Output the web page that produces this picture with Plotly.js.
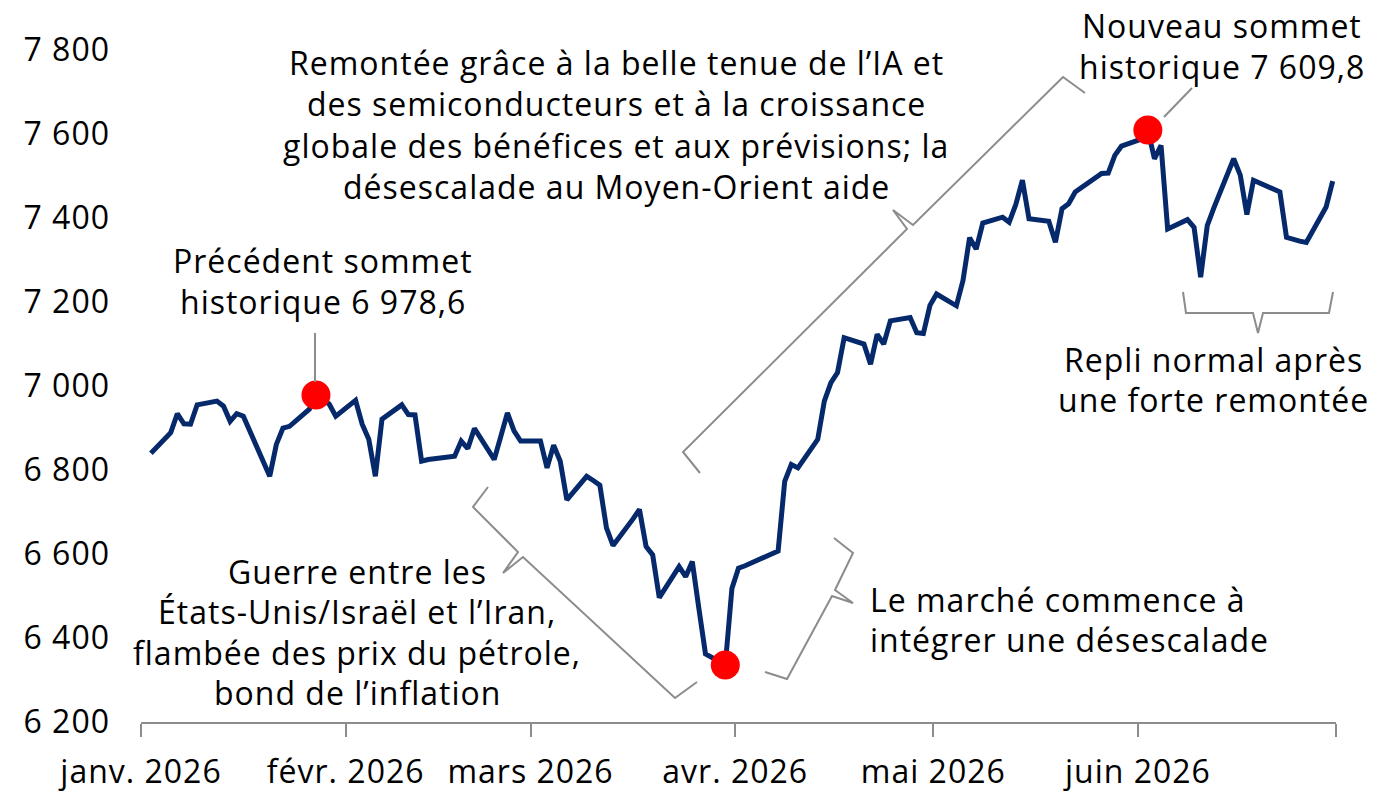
<!DOCTYPE html>
<html><head><meta charset="utf-8">
<script src="https://cdn.plot.ly/plotly-3.0.1.min.js"></script>
<style>
html,body{margin:0;padding:0;background:#fff;}
svg text{letter-spacing:1px;}
</style></head><body>
<div id="chart" style="width:1380px;height:800px;"></div>
<script>
// ---- data (S&P 500 level, daily closes) ----
const dates = [
 '2026-01-02','2026-01-05','2026-01-06','2026-01-07','2026-01-08','2026-01-09','2026-01-12','2026-01-13','2026-01-14','2026-01-15','2026-01-16','2026-01-20','2026-01-21','2026-01-22','2026-01-23','2026-01-26','2026-01-27','2026-01-28','2026-01-29','2026-01-30',
 '2026-02-02','2026-02-03','2026-02-04','2026-02-05','2026-02-06','2026-02-09','2026-02-10','2026-02-11','2026-02-12','2026-02-13','2026-02-17','2026-02-18','2026-02-19','2026-02-20','2026-02-23','2026-02-24','2026-02-25','2026-02-26','2026-02-27',
 '2026-03-02','2026-03-03','2026-03-04','2026-03-05','2026-03-06','2026-03-09','2026-03-10','2026-03-11','2026-03-12','2026-03-13','2026-03-16','2026-03-17','2026-03-18','2026-03-19','2026-03-20','2026-03-23','2026-03-24','2026-03-25','2026-03-26','2026-03-27','2026-03-30','2026-03-31',
 '2026-04-01','2026-04-02','2026-04-06','2026-04-07','2026-04-08','2026-04-09','2026-04-10','2026-04-13','2026-04-14','2026-04-15','2026-04-16','2026-04-17','2026-04-20','2026-04-21','2026-04-22','2026-04-23','2026-04-24','2026-04-27','2026-04-28','2026-04-29','2026-04-30',
 '2026-05-01','2026-05-04','2026-05-05','2026-05-06','2026-05-07','2026-05-08','2026-05-11','2026-05-12','2026-05-13','2026-05-14','2026-05-15','2026-05-18','2026-05-19','2026-05-20','2026-05-21','2026-05-22','2026-05-26','2026-05-27','2026-05-28','2026-05-29',
 '2026-06-01','2026-06-02','2026-06-03','2026-06-04','2026-06-05','2026-06-08','2026-06-09','2026-06-10','2026-06-11','2026-06-12','2026-06-15','2026-06-16','2026-06-17','2026-06-18','2026-06-22','2026-06-23','2026-06-24','2026-06-25','2026-06-26','2026-06-29','2026-06-30'
];
const values = [
 6840,6889,6934,6910,6909,6955,6964,6952,6916,6934,6928,6785,6861,6900,6904,6945,6978.6,6968,6957,6928,
 6966,6909,6873,6785,6921,6955,6932,6931,6821,6825,6833,6869,6851,6899,6825,6880,6936,6893,6869,
 6869,6805,6859,6821,6729,6785,6775,6764,6662,6620,6683,6706,6618,6598,6496,6570,6546,6582,6470,6362,6336,6518,
 6566,6572,6600,6607,6773,6813,6805,6873,6964,7008,7032,7115,7100,7052,7123,7100,7155,7163,7127,7125,7192,
 7219,7191,7251,7353,7326,7388,7402,7390,7432,7490,7398,7392,7342,7422,7434,7462,7506,7507,7549,7571,
 7588,7609.8,7541,7573,7374,7396,7378,7259,7382,7424,7541,7502,7408,7490,7462,7354,7348,7345,7342,7426,7488
];
const highlightDates = ['2026-01-27','2026-03-30','2026-06-02'];

const yTickVals = [6200,6400,6600,6800,7000,7200,7400,7600,7800];
const yTickText = ['6 200','6 400','6 600','6 800','7 000','7 200','7 400','7 600','7 800'];
const xTickVals = ['2026-01-01','2026-02-01','2026-03-01','2026-04-01','2026-05-01','2026-06-01','2026-07-01'];
const xTickText = ['janv. 2026','févr. 2026','mars 2026','avr. 2026','mai 2026','juin 2026',''];

const noteRally = ['Remontée grâce à la belle tenue de l’IA et','des semiconducteurs et à la croissance','globale des bénéfices et aux prévisions; la','désescalade au Moyen-Orient aide'];
const noteNewHigh = ['Nouveau sommet','historique 7 609,8'];
const notePrevHigh = ['Précédent sommet','historique 6 978,6'];
const notePullback = ['Repli normal après','une forte remontée'];
const noteWar = ['Guerre entre les','États-Unis/Israël et l’Iran,','flambée des prix du pétrole,','bond de l’inflation'];
const noteDeesc = ['Le marché commence à','intégrer une désescalade'];

// ---- layout helpers (pixel -> paper) ----
const PL = 141, PT = 50, PW = 1195, PH = 672;
const px = x => (x - PL) / PW;
const py = y => (PT + PH - y) / PH;
const FONT = 'Open Sans, Noto Sans, sans-serif';
const FS = 32;

function block(lines, xc, y0, step, anchor) {
  return lines.map((t, i) => ({
    text: t, xref: 'paper', yref: 'paper', x: px(xc), y: py(y0 + i * step),
    xanchor: anchor || 'center', yanchor: 'middle', showarrow: false, align: anchor === 'left' ? 'left' : 'center',
    font: {family: FONT, size: FS, color: '#000'}
  }));
}
function pathFrom(pts) {
  return pts.map((p, i) => (i ? 'L' : 'M') + px(p[0]).toFixed(5) + ',' + py(p[1]).toFixed(5)).join(' ');
}
const GRAY = '#8c8c8c';
function pathShape(pts) {
  return {type: 'path', xref: 'paper', yref: 'paper', path: pathFrom(pts), line: {color: GRAY, width: 2}, layer: 'above'};
}

const annotations = [].concat(
  block(noteRally, 616, 62, 41.5),
  block(noteNewHigh, 1222, 25, 41),
  block(notePrevHigh, 323, 260, 41),
  block(notePullback, 1213, 359, 41),
  block(noteWar, 357, 571, 40.5),
  block(noteDeesc, 868, 599, 40.5, 'left')
);

const shapes = [
  pathShape([[700,473],[683,452],[907,229],[893,210],[913,225],[1063,77],[1085,93]]),
  pathShape([[488,487],[473,507],[518,552],[503,573],[523,557],[675,698],[697,682]]),
  pathShape([[834,538],[853,553],[835,590],[853,603],[832,596],[787,679],[765,672]]),
  pathShape([[1183,292],[1186,313],[1253,313],[1258,333],[1263,313],[1329,313],[1333,292]]),
  pathShape([[315,333],[315,382]]),
  pathShape([[1164,117],[1192,88]])
];

const xs = dates.map(d => d + ' 12:00');
const hiX = highlightDates.map(d => d + ' 12:00');
const hiY = highlightDates.map(d => values[dates.indexOf(d)]);

const traces = [
  {x: xs, y: values, type: 'scatter', mode: 'lines', line: {color: '#05296b', width: 5}, hoverinfo: 'skip'},
  {x: hiX, y: hiY, type: 'scatter', mode: 'markers', marker: {color: '#ff0000', size: 29}, cliponaxis: false, hoverinfo: 'skip'}
];

const layout = {
  width: 1380, height: 800,
  margin: {l: PL, r: 1380 - PL - PW, t: PT, b: 800 - PT - PH},
  paper_bgcolor: '#fff', plot_bgcolor: '#fff',
  showlegend: false,
  font: {family: FONT, size: FS, color: '#000'},
  xaxis: {
    type: 'date', range: ['2026-01-01', '2026-07-01'],
    tickmode: 'array', tickvals: xTickVals, ticktext: xTickText,
    ticks: 'outside', ticklen: 13, tickwidth: 2, tickcolor: GRAY,
    showline: true, linecolor: GRAY, linewidth: 2,
    showgrid: false, zeroline: false, ticklabelstandoff: 8,
    tickfont: {family: FONT, size: FS, color: '#000'}
  },
  yaxis: {
    range: [6200, 7800], tickmode: 'array', tickvals: yTickVals, ticktext: yTickText,
    showgrid: false, zeroline: false, showline: false, ticks: '',
    ticklabelstandoff: 30,
    tickfont: {family: FONT, size: FS, color: '#000'}
  },
  annotations: annotations,
  shapes: shapes
};

Plotly.newPlot('chart', traces, layout, {displayModeBar: false, staticPlot: true});
</script>
</body></html>
